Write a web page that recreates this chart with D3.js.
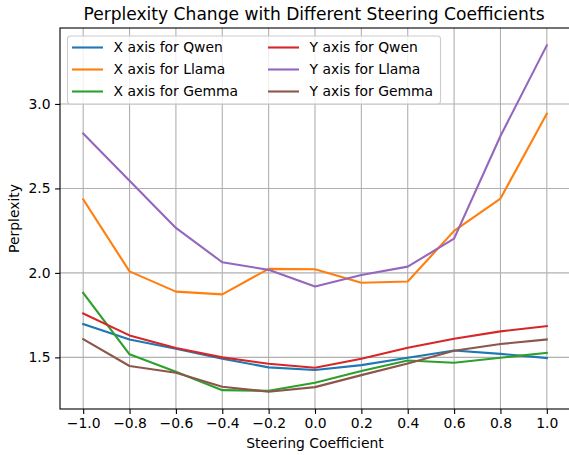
<!DOCTYPE html>
<html>
<head>
<meta charset="utf-8">
<script src="https://cdn.jsdelivr.net/npm/d3@7"></script>
<style>
  body { margin: 0; background: #fff; }
  text { font-family: "DejaVu Sans", sans-serif; fill: #000; }
</style>
</head>
<body>
<div id="chart"></div>
<script>
// Data
const coefficients = [-1.0, -0.8, -0.6, -0.4, -0.2, 0.0, 0.2, 0.4, 0.6, 0.8, 1.0];
const xQwen  = [1.697, 1.606, 1.551, 1.492, 1.441, 1.425, 1.454, 1.498, 1.541, 1.521, 1.496];
const xLlama = [2.435, 2.009, 1.889, 1.873, 2.024, 2.022, 1.942, 1.949, 2.249, 2.440, 2.943];
const xGemma = [1.882, 1.518, 1.415, 1.306, 1.302, 1.350, 1.419, 1.482, 1.468, 1.498, 1.527];
const yQwen  = [1.760, 1.630, 1.555, 1.500, 1.462, 1.439, 1.492, 1.557, 1.610, 1.654, 1.685];
const yLlama = [2.825, 2.546, 2.266, 2.063, 2.018, 1.920, 1.988, 2.037, 2.203, 2.810, 3.347];
const yGemma = [1.608, 1.449, 1.409, 1.326, 1.297, 1.324, 1.395, 1.464, 1.539, 1.579, 1.606];
const seriesNames = ["X axis for Qwen", "X axis for Llama", "X axis for Gemma",
                     "Y axis for Qwen", "Y axis for Llama", "Y axis for Gemma"];
const seriesColors = ["#1f77b4", "#ff7f0e", "#2ca02c", "#d62728", "#9467bd", "#8c564b"];
const xTicks = [-1.0, -0.8, -0.6, -0.4, -0.2, 0.0, 0.2, 0.4, 0.6, 0.8, 1.0];
const yTicks = [1.5, 2.0, 2.5, 3.0];

const series = [xQwen, xLlama, xGemma, yQwen, yLlama, yGemma].map((values, i) => ({
  name: seriesNames[i], color: seriesColors[i], values
}));

const W = 569, H = 455;
const margin = {top: 28, left: 60},
  width = 510,
  height = 381;

const svg = d3.select("#chart").append("svg")
  .attr("width", W).attr("height", H);

// scales with matplotlib-style 5% padding
const allVals = series.flatMap(s => s.values);
const yMin = d3.min(allVals), yMax = d3.max(allVals);
const yPad = (yMax - yMin) * 0.05;
const x = d3.scaleLinear().domain([-1.1, 1.1]).range([margin.left, margin.left + width]);
const y = d3.scaleLinear().domain([yMin - yPad, yMax + yPad]).range([margin.top + height, margin.top]);

// grid
const grid = svg.append("g").attr("stroke", "#b0b0b0").attr("stroke-width", 1.1);
grid.selectAll("line.gx").data(xTicks).join("line")
  .attr("x1", d => x(d)).attr("x2", d => x(d))
  .attr("y1", margin.top).attr("y2", margin.top + height);
grid.selectAll("line.gy").data(yTicks).join("line")
  .attr("x1", margin.left).attr("x2", margin.left + width)
  .attr("y1", d => y(d)).attr("y2", d => y(d));

// lines
const line = d3.line().x((d, i) => x(coefficients[i])).y(d => y(d));
svg.append("g").selectAll("path").data(series).join("path")
  .attr("fill", "none")
  .attr("stroke", d => d.color)
  .attr("stroke-width", 2.1)
  .attr("stroke-linejoin", "round")
  .attr("stroke-linecap", "square")
  .attr("d", d => line(d.values));

// axes
const fmt = d3.format(".1f");
const xAxis = svg.append("g")
  .attr("transform", `translate(0,${margin.top + height})`)
  .call(d3.axisBottom(x).tickValues(xTicks).tickFormat(fmt).tickSize(4.9).tickPadding(4.5));
const yAxis = svg.append("g")
  .attr("transform", `translate(${margin.left},0)`)
  .call(d3.axisLeft(y).tickValues(yTicks).tickFormat(fmt).tickSize(4.9).tickPadding(4.5));
[xAxis, yAxis].forEach(a => {
  a.select(".domain").remove();
  a.selectAll(".tick line").attr("stroke", "#000").attr("stroke-width", 1.1);
  a.selectAll(".tick text").attr("font-family", "DejaVu Sans").attr("font-size", 13.9).attr("fill", "#000");
});

// spines
svg.append("rect")
  .attr("x", margin.left).attr("y", margin.top)
  .attr("width", width).attr("height", height)
  .attr("fill", "none").attr("stroke", "#000").attr("stroke-width", 1.1);

// labels
svg.append("text")
  .attr("x", margin.left + width / 2 - 1).attr("y", 20)
  .attr("text-anchor", "middle").attr("font-size", 17.1)
  .text("Perplexity Change with Different Steering Coefficients");
svg.append("text")
  .attr("x", margin.left + width / 2).attr("y", 448)
  .attr("text-anchor", "middle").attr("font-size", 13.9)
  .text("Steering Coefficient");
svg.append("text")
  .attr("transform", `translate(18.5,${margin.top + height / 2}) rotate(-90)`)
  .attr("text-anchor", "middle").attr("font-size", 13.9)
  .text("Perplexity");

// legend
const legend = svg.append("g");
legend.append("rect")
  .attr("x", 67.5).attr("y", 36).attr("width", 373).attr("height", 68)
  .attr("rx", 3).attr("fill", "#fff").attr("fill-opacity", 0.8)
  .attr("stroke", "#cccccc").attr("stroke-width", 1.1);
const items = legend.selectAll("g.item").data(series).join("g")
  .attr("transform", (d, i) => `translate(${i < 3 ? 72 : 268},${47.5 + (i % 3) * 22})`);
items.append("line")
  .attr("x1", 0).attr("x2", 31).attr("y1", 0).attr("y2", 0)
  .attr("stroke", d => d.color).attr("stroke-width", 2.1);
items.append("text")
  .attr("x", 41.5).attr("dy", "0.35em").attr("font-size", 13.9)
  .text(d => d.name);
</script>
</body>
</html>
